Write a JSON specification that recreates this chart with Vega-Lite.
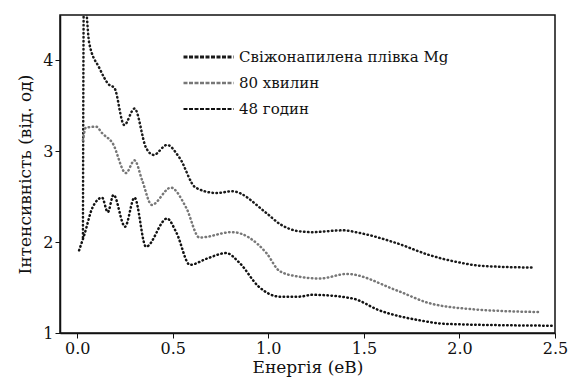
{
  "$schema": "https://vega.github.io/schema/vega-lite/v6.json",
  "width": 495,
  "height": 318,
  "autosize": {"type": "none"},
  "padding": {"left": 60, "top": 15, "right": 15, "bottom": 55},
  "background": "white",
  "config": {
    "font": "DejaVu Serif",
    "view": {"stroke": "#111", "strokeWidth": 1.5},
    "axis": {"grid": false, "domainColor": "#111", "domainWidth": 1.5, "tickColor": "#111", "labelColor": "#111", "titleColor": "#111", "labelFontSize": 16, "titleFontSize": 17, "titleFontWeight": "normal", "labelFont": "DejaVu Serif", "titleFont": "DejaVu Serif"},
    "legend": {"labelFont": "DejaVu Serif"}
  },
  "data": {"values": [
    {"s": "Свіжонапилена плівка Mg", "x": 0.03, "y": 2.05},
    {"s": "Свіжонапилена плівка Mg", "x": 0.035, "y": 4.8},
    {"s": "Свіжонапилена плівка Mg", "x": 0.063, "y": 4.19},
    {"s": "Свіжонапилена плівка Mg", "x": 0.115, "y": 3.92},
    {"s": "Свіжонапилена плівка Mg", "x": 0.168, "y": 3.73},
    {"s": "Свіжонапилена плівка Mg", "x": 0.194, "y": 3.7},
    {"s": "Свіжонапилена плівка Mg", "x": 0.246, "y": 3.29},
    {"s": "Свіжонапилена плівка Mg", "x": 0.30, "y": 3.47},
    {"s": "Свіжонапилена плівка Mg", "x": 0.36, "y": 3.04},
    {"s": "Свіжонапилена плівка Mg", "x": 0.40, "y": 2.96},
    {"s": "Свіжонапилена плівка Mg", "x": 0.47, "y": 3.07},
    {"s": "Свіжонапилена плівка Mg", "x": 0.535, "y": 2.93},
    {"s": "Свіжонапилена плівка Mg", "x": 0.62, "y": 2.6},
    {"s": "Свіжонапилена плівка Mg", "x": 0.73, "y": 2.54},
    {"s": "Свіжонапилена плівка Mg", "x": 0.81, "y": 2.56},
    {"s": "Свіжонапилена плівка Mg", "x": 0.99, "y": 2.32},
    {"s": "Свіжонапилена плівка Mg", "x": 1.06, "y": 2.2},
    {"s": "Свіжонапилена плівка Mg", "x": 1.16, "y": 2.12},
    {"s": "Свіжонапилена плівка Mg", "x": 1.23, "y": 2.11},
    {"s": "Свіжонапилена плівка Mg", "x": 1.39, "y": 2.13},
    {"s": "Свіжонапилена плівка Mg", "x": 1.48, "y": 2.1},
    {"s": "Свіжонапилена плівка Mg", "x": 1.67, "y": 1.99},
    {"s": "Свіжонапилена плівка Mg", "x": 1.84, "y": 1.86},
    {"s": "Свіжонапилена плівка Mg", "x": 1.99, "y": 1.78},
    {"s": "Свіжонапилена плівка Mg", "x": 2.11, "y": 1.74},
    {"s": "Свіжонапилена плівка Mg", "x": 2.38, "y": 1.72},
    {"s": "80 хвилин", "x": 0.03, "y": 3.12},
    {"s": "80 хвилин", "x": 0.045, "y": 3.26},
    {"s": "80 хвилин", "x": 0.10, "y": 3.27},
    {"s": "80 хвилин", "x": 0.13, "y": 3.2},
    {"s": "80 хвилин", "x": 0.185, "y": 3.09},
    {"s": "80 хвилин", "x": 0.255, "y": 2.76},
    {"s": "80 хвилин", "x": 0.30, "y": 2.9},
    {"s": "80 хвилин", "x": 0.34, "y": 2.68},
    {"s": "80 хвилин", "x": 0.39, "y": 2.41},
    {"s": "80 хвилин", "x": 0.49, "y": 2.6},
    {"s": "80 хвилин", "x": 0.57, "y": 2.38},
    {"s": "80 хвилин", "x": 0.64, "y": 2.05},
    {"s": "80 хвилин", "x": 0.81, "y": 2.11},
    {"s": "80 хвилин", "x": 0.99, "y": 1.88},
    {"s": "80 хвилин", "x": 1.06, "y": 1.68},
    {"s": "80 хвилин", "x": 1.16, "y": 1.62},
    {"s": "80 хвилин", "x": 1.27, "y": 1.6},
    {"s": "80 хвилин", "x": 1.41, "y": 1.65},
    {"s": "80 хвилин", "x": 1.67, "y": 1.47},
    {"s": "80 хвилин", "x": 1.84, "y": 1.33},
    {"s": "80 хвилин", "x": 2.02, "y": 1.27},
    {"s": "80 хвилин", "x": 2.42, "y": 1.23},
    {"s": "48 годин", "x": 0.01, "y": 1.91},
    {"s": "48 годин", "x": 0.037, "y": 2.08},
    {"s": "48 годин", "x": 0.08, "y": 2.38},
    {"s": "48 годин", "x": 0.13, "y": 2.49},
    {"s": "48 годин", "x": 0.16, "y": 2.33},
    {"s": "48 годин", "x": 0.19, "y": 2.52},
    {"s": "48 годин", "x": 0.25, "y": 2.17},
    {"s": "48 годин", "x": 0.30, "y": 2.49},
    {"s": "48 годин", "x": 0.36, "y": 1.95},
    {"s": "48 годин", "x": 0.47, "y": 2.26},
    {"s": "48 годин", "x": 0.52, "y": 2.1},
    {"s": "48 годин", "x": 0.59, "y": 1.75},
    {"s": "48 годин", "x": 0.68, "y": 1.82},
    {"s": "48 годин", "x": 0.78, "y": 1.88},
    {"s": "48 годин", "x": 0.85, "y": 1.77},
    {"s": "48 годин", "x": 0.95, "y": 1.51},
    {"s": "48 годин", "x": 1.06, "y": 1.4},
    {"s": "48 годин", "x": 1.16, "y": 1.4},
    {"s": "48 годин", "x": 1.23, "y": 1.42},
    {"s": "48 годин", "x": 1.44, "y": 1.38},
    {"s": "48 годин", "x": 1.58, "y": 1.25},
    {"s": "48 годин", "x": 1.79, "y": 1.14},
    {"s": "48 годин", "x": 1.93, "y": 1.1},
    {"s": "48 годин", "x": 2.49, "y": 1.08}
  ]},
  "mark": {"type": "line", "clip": true, "interpolate": "monotone", "strokeCap": "round", "strokeWidth": 2.5, "strokeDash": [0.5, 3.5]},
  "encoding": {
    "x": {"field": "x", "type": "quantitative", "title": "Енергія (еВ)",
      "scale": {"domain": [-0.09, 2.5], "nice": false, "zero": false},
      "axis": {"values": [0, 0.5, 1, 1.5, 2, 2.5], "format": ".1f", "labelFlush": false, "titlePadding": 3}},
    "y": {"field": "y", "type": "quantitative", "title": "Інтенсивність (від. од)",
      "scale": {"domain": [1, 4.5], "nice": false, "zero": false},
      "axis": {"values": [1, 2, 3, 4], "labelFlush": false, "titlePadding": 8}},
    "color": {"field": "s", "type": "nominal",
      "sort": ["Свіжонапилена плівка Mg", "80 хвилин", "48 годин"],
      "scale": {"domain": ["Свіжонапилена плівка Mg", "80 хвилин", "48 годин"], "range": ["#1a1a1a", "#777777", "#111111"]},
      "legend": {"title": null, "orient": "none", "legendX": 122, "legendY": 33, "symbolType": "stroke", "symbolSize": 2500, "symbolStrokeWidth": 1.5, "labelFontSize": 15, "labelLimit": 400, "labelColor": "#111", "rowPadding": 8, "clipHeight": 18, "symbolDash": [4, 1.5]}},
    "strokeWidth": {"field": "s", "type": "nominal", "scale": {"domain": ["Свіжонапилена плівка Mg", "80 хвилин", "48 годин"], "range": [2.8, 2, 3.2]}, "legend": null}
  }
}
